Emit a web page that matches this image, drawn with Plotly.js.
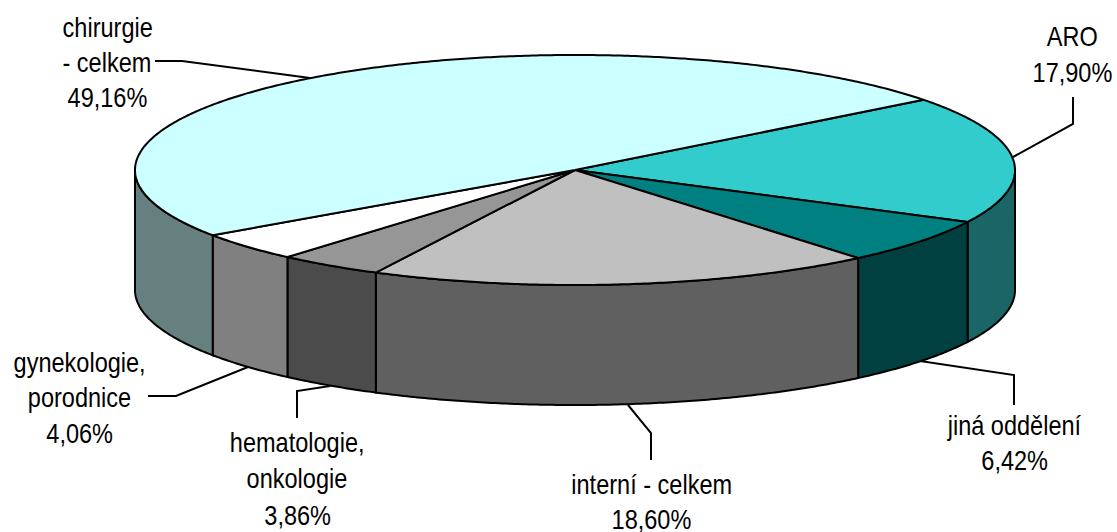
<!DOCTYPE html>
<html><head><meta charset="utf-8">
<script src="https://cdn.plot.ly/plotly-3.0.1.min.js"></script>
<style>html,body{margin:0;padding:0;background:#fff}#c{width:1117px;height:532px}</style>
</head><body><div id="c"></div>
<script>
// Data, clockwise from the top-right boundary
const categories = ["ARO", "jiná oddělení", "interní - celkem", "hematologie, onkologie", "gynekologie, porodnice", "chirurgie - celkem"];
const values = [17.90, 6.42, 18.60, 3.86, 4.06, 49.16];
const labelLines = [
  ["ARO", "17,90%"],
  ["jiná oddělení", "6,42%"],
  ["interní - celkem", "18,60%"],
  ["hematologie,", "onkologie", "3,86%"],
  ["gynekologie,", "porodnice", "4,06%"],
  ["chirurgie", "- celkem", "49,16%"]
];
const topColors = ["#33CCCC", "#008080", "#C0C0C0", "#969696", "#FFFFFF", "#CCFFFF"];
const sideColors = ["#1A6666", "#004040", "#606060", "#4B4B4B", "#808080", "#668080"];

// Layout of the drawing, in plot units
const cx = 575, cy = 170, rx = 440, ry = 115, depth = 120, startDeg = 37.6;
const labelX = [1072, 1014, 651, 297, 79, 107];
const labelY = [[36, 72], [425, 460], [484, 519], [442, 478, 515], [362, 397, 433], [27, 62, 97]];
const leaderX = [[1073, 1073, 1013], [920, 1014, 1014], [628, 651, 651], [330, 297, 297], [148, 176, 248], [155, 182, 310]];
const leaderY = [[97, 124, 157], [361, 375, 405], [405, 433, 460], [386, 391, 418], [396, 396, 367], [61, 61, 78]];
const textSqueeze = 0.84;   // the reference's labels are set in a narrow face

const px = d => cx + rx * Math.cos(d * Math.PI / 180);
const py = (d, z) => cy - ry * Math.sin(d * Math.PI / 180) + (z || 0);
function arc(a, b, z) {           // a > b, clockwise
  const out = [];
  for (let d = a; d > b; d -= 0.5) out.push([px(d), py(d, z)]);
  out.push([px(b), py(b, z)]);
  return out;
}
const poly = (pts, fill, name) => ({
  type: "scatter", mode: "lines", x: pts.map(p => p[0]), y: pts.map(p => p[1]),
  fill: "toself", fillcolor: fill, line: {color: "#000", width: 2, simplify: false},
  hoverinfo: "text", text: name, showlegend: false
});

const total = values.reduce((s, v) => s + v, 0);
const slices = [];
let ang = startDeg;
values.forEach((v, i) => { const next = ang - v / total * 360; slices.push([ang, next]); ang = next; });

const traces = [];
// leader lines
leaderX.forEach((xs, i) => traces.push({
  type: "scatter", mode: "lines", x: xs, y: leaderY[i],
  line: {color: "#000", width: 2}, hoverinfo: "skip", showlegend: false
}));
// visible side walls: the front half of the rim
slices.forEach(([a, b], i) => {
  const ranges = [[0, -180], [-360, -540]];
  ranges.forEach(([hi, lo]) => {
    const s = Math.min(a, hi), e = Math.max(b, lo);
    if (s > e) {
      const pts = arc(s, e, 0).concat(arc(s, e, depth).reverse());
      pts.push(pts[0]);
      traces.push(poly(pts, sideColors[i], categories[i]));
    }
  });
});
// top faces
slices.forEach(([a, b], i) => {
  const pts = [[cx, cy]].concat(arc(a, b, 0));
  pts.push([cx, cy]);
  traces.push(poly(pts, topColors[i], categories[i]));
});

const annotations = [];
labelLines.forEach((lines, i) => lines.forEach((t, j) => annotations.push({
  xref: "x", yref: "y", x: labelX[i], y: labelY[i][j], text: t, showarrow: false,
  xanchor: "center", yanchor: "middle",
  font: {family: '"Liberation Sans",Arial,sans-serif', size: 28, color: "#000"}
})));

Plotly.newPlot("c", traces, {
  width: 1117, height: 532, margin: {l: 0, r: 0, t: 0, b: 0},
  paper_bgcolor: "#fff", plot_bgcolor: "#fff", showlegend: false,
  xaxis: {range: [0, 1117], visible: false, fixedrange: true},
  yaxis: {range: [532, 0], visible: false, fixedrange: true},
  annotations
}, {displayModeBar: false}).then(gd => {
  gd.querySelectorAll(".annotation-text").forEach(t => {
    t.setAttribute("textLength", t.getComputedTextLength() * textSqueeze);
    t.setAttribute("lengthAdjust", "spacingAndGlyphs");
  });
});
</script></body></html>
